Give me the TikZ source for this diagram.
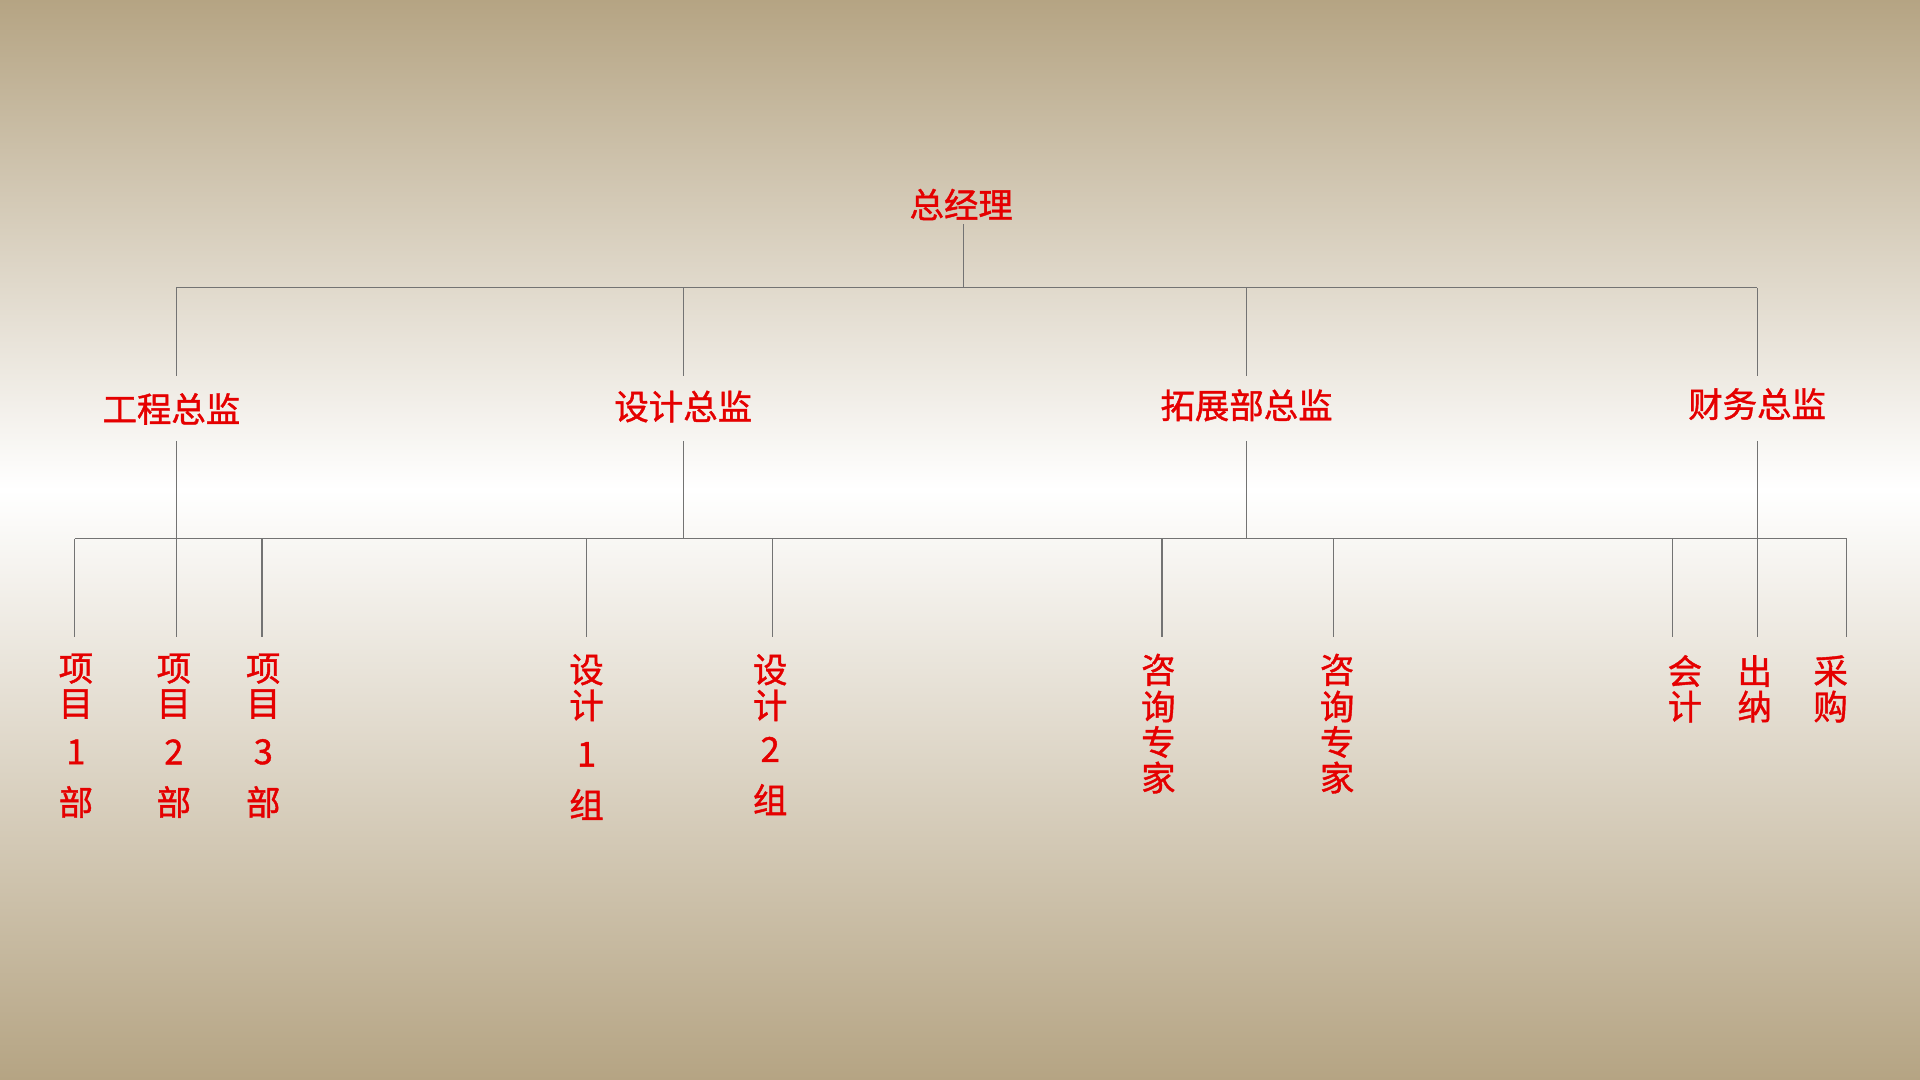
\documentclass[tikz,border=0pt]{standalone}
\usepackage{fontspec}
\newfontfamily\cjk[AutoFakeBold=1.2]{Noto Sans CJK SC}
\begin{document}
\begin{tikzpicture}[x=0.02cm,y=-0.02cm,
  lbl/.style={text=red!90!black,font=\cjk\bfseries\fontsize{16}{16}\selectfont,inner sep=0pt},
  ln/.style={draw=black!55,line width=0.6pt}]
\shade[top color={rgb,255:red,181;green,164;blue,131},bottom color=white,shading angle=0] (0,0) rectangle (1568,400);
\shade[top color=white,bottom color={rgb,255:red,181;green,164;blue,131}] (0,400) rectangle (1568,882);
\useasboundingbox (0,0) rectangle (1568,882);
% top
\node[lbl] (gm) at (785,167) {总经理};
\coordinate (t0) at (787,235);
\draw[ln] (gm.south) ++(0,0) coordinate (gms) (787,183) -- (t0);
\foreach \n/\x/\y/\t in {a/140/334/工程总监,b/558/332/设计总监,c/1018/331/拓展部总监,d/1435/330/财务总监}{
  \node[lbl] (\n) at (\x,\y) {\t};
}
\foreach \n/\x in {a/144,b/558,c/1018,d/1435}{
  \coordinate (\n t) at (\x,235);
  \coordinate (\n u) at (\x,307);
  \coordinate (\n l) at (\x,360);
  \coordinate (\n m) at (\x,440);
  \draw[ln] (\n t) -- (\n u);
  \draw[ln] (\n l) -- (\n m);
}
\draw[ln] (at) -- (dt);
\coordinate (hl) at (61,440); \coordinate (hr) at (1508,440);
\draw[ln] (hl) -- (hr);
\foreach \i/\x in {1/61,2/144,3/214,4/479,5/631,6/949,7/1089,8/1366,9/1435,10/1508}{
  \coordinate (s\i) at (\x,440); \coordinate (e\i) at (\x,520);
  \draw[ln] (s\i) -- (e\i);
}
% leaf labels: name/x/y/char
\foreach \n/\x/\y/\t in {
 p1a/62/546/项,p1b/62/575/目,p1c/62/614/1,p1d/62/655/部,
 p2a/142/546/项,p2b/142/575/目,p2c/142/614/2,p2d/142/655/部,
 p3a/215/546/项,p3b/215/575/目,p3c/215/614/3,p3d/215/655/部,
 g1a/479/547/设,g1b/479/576/计,g1c/479/616/1,g1d/479/657/组,
 g2a/629/547/设,g2b/629/576/计,g2c/629/612/2,g2d/629/653/组,
 z1a/946/547/咨,z1b/946/577/询,z1c/946/606/专,z1d/946/635/家,
 z2a/1092/547/咨,z2b/1092/577/询,z2c/1092/606/专,z2d/1092/635/家,
 f1a/1376/548/会,f1b/1376/577/计,
 f2a/1433/548/出,f2b/1433/577/纳,
 f3a/1495/548/采,f3b/1495/577/购}{
  \node[lbl] (\n) at (\x,\y) {\t};
}
\end{tikzpicture}
\end{document}
